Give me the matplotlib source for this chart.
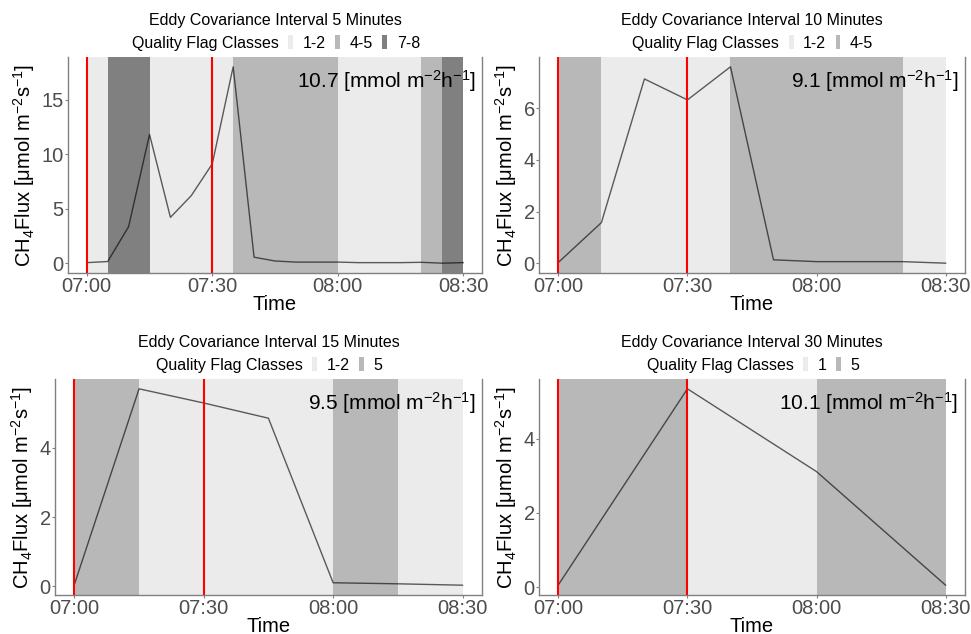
import matplotlib
matplotlib.use("Agg")
import matplotlib.pyplot as plt
from matplotlib.patches import Patch

plt.rcParams['font.family'] = ['Liberation Sans', 'DejaVu Sans']
plt.rcParams['mathtext.fontset'] = 'custom'
plt.rcParams['mathtext.rm'] = 'Liberation Sans'
plt.rcParams['mathtext.default'] = 'regular'

# ---- data ----
times_5 = ["07:00", "07:05", "07:10", "07:15", "07:20", "07:25", "07:30", "07:35",
           "07:40", "07:45", "07:50", "07:55", "08:00", "08:05", "08:10", "08:15",
           "08:20", "08:25", "08:30"]
flux_5 = [0.05, 0.15, 3.35, 11.8, 4.2, 6.2, 9.1, 18.0, 0.55, 0.2, 0.1, 0.1,
          0.1, 0.05, 0.05, 0.05, 0.08, 0.0, 0.05]
flags_5 = ["1-2", "7-8", "7-8", "1-2", "1-2", "1-2", "1-2", "4-5", "4-5",
           "4-5", "4-5", "4-5", "1-2", "1-2", "1-2", "1-2", "4-5", "7-8"]

times_10 = ["07:00", "07:10", "07:20", "07:30", "07:40", "07:50", "08:00",
            "08:10", "08:20", "08:30"]
flux_10 = [0.03, 1.57, 7.13, 6.32, 7.6, 0.13, 0.06, 0.06, 0.06, 0.0]
flags_10 = ["4-5", "1-2", "1-2", "1-2", "4-5", "4-5", "4-5", "4-5", "1-2"]

times_15 = ["07:00", "07:15", "07:30", "07:45", "08:00", "08:15", "08:30"]
flux_15 = [0.05, 5.71, 5.3, 4.86, 0.1, 0.07, 0.03]
flags_15 = ["5", "1-2", "1-2", "1-2", "5", "1-2"]

times_30 = ["07:00", "07:30", "08:00", "08:30"]
flux_30 = [0.06, 5.34, 3.11, 0.05]
flags_30 = ["5", "1", "5"]

intervals = [5, 10, 15, 30]
totals = ["10.7", "9.1", "9.5", "10.1"]
marker_times = ["07:00", "07:30"]
tick_times = ["07:00", "07:30", "08:00", "08:30"]

flag_colors = {"1": "#EBEBEB", "1-2": "#EBEBEB", "4-5": "#B8B8B8",
               "5": "#B8B8B8", "7-8": "#808080"}


def to_min(t):
    h, m = t.split(":")
    return (int(h) - 7) * 60 + int(m)


panels = [
    (times_5, flux_5, flags_5, [0.070, 0.5694, 0.4264, 0.3407], 5),
    (times_10, flux_10, flags_10, [0.5551, 0.5694, 0.4387, 0.3407], 2),
    (times_15, flux_15, flags_15, [0.0566, 0.0615, 0.4397, 0.3407], 2),
    (times_30, flux_30, flags_30, [0.5551, 0.0615, 0.4387, 0.3407], 2),
]

fig = plt.figure(figsize=(9.71, 6.34), dpi=100)

for i, (times, flux, flags, pos, ystep) in enumerate(panels):
    ax = fig.add_axes(pos)
    x = [to_min(t) for t in times]

    for k, f in enumerate(flags):
        ax.axvspan(x[k], x[k + 1], color=flag_colors[f], lw=0, zorder=0)

    ax.plot(x, flux, color="black", alpha=0.62, lw=1.0, zorder=2)
    for t in marker_times:
        ax.axvline(to_min(t), color="#FF0000", lw=1.5, zorder=3)

    ax.set_xticks([to_min(t) for t in tick_times])
    ax.set_xticklabels(tick_times)
    yt = []
    v = 0
    while v <= max(flux):
        yt.append(v)
        v += ystep
    ax.set_yticks(yt)
    ax.margins(x=0.05, y=0.05)

    for side in ["left", "bottom", "right"]:
        ax.spines[side].set_color("#808080")
        ax.spines[side].set_linewidth(1.0)
    ax.spines["top"].set_visible(False)
    ax.tick_params(length=2, width=0.8, color="#808080", pad=1,
                   labelsize=14.5, labelcolor="#4D4D4D")

    ax.set_xlabel("Time", fontsize=14.5, labelpad=-1)
    ax.set_ylabel("CH$_4$Flux [μmol m$^{-2}$s$^{-1}$]", fontsize=14.5, labelpad=3)

    ax.text(0.985, 0.89, totals[i] + " [mmol m$^{-2}$h$^{-1}$]",
            transform=ax.transAxes, ha="right", va="center", fontsize=15, zorder=4)

    ax.annotate("Eddy Covariance Interval %d Minutes" % intervals[i],
                xy=(0.5, 1), xycoords="axes fraction", xytext=(0, 26),
                textcoords="offset points", ha="center", va="center",
                fontsize=11.5)

    classes = sorted(set(flags), key=lambda s: int(s.split("-")[0]))
    handles = [Patch(facecolor="none", edgecolor="none")]
    labels = ["Quality Flag Classes"]
    for c in classes:
        handles.append(Patch(facecolor=flag_colors[c], edgecolor="none"))
        labels.append(c)
    ax.legend(handles, labels, loc="center", bbox_to_anchor=(0.485, 1.065),
              ncol=len(labels), frameon=False, fontsize=11.5, handlelength=0.3,
              handleheight=1.0, handletextpad=0.6, columnspacing=0.6,
              borderaxespad=0, borderpad=0)

fig.savefig("out.png", dpi=100)
